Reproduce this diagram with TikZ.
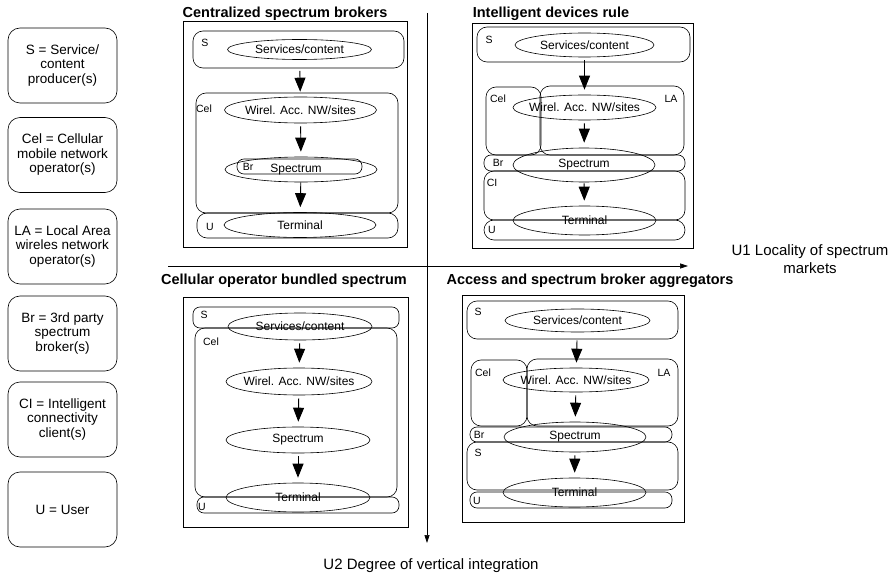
\documentclass[tikz,border=0pt]{standalone}
\usepackage{fontspec}
\setmainfont{Liberation Sans}
\usetikzlibrary{shapes.geometric, arrows.meta}
\newcommand{\zwbox}[1]{\makebox[0pt]{#1}}

\begin{document}
\begin{tikzpicture}[x=1pt, y=-1pt, line width=0.6pt,
  legend/.style={draw, rounded corners=12pt, minimum width=109pt, minimum height=75pt, align=center, inner sep=2pt, font=\fontsize{13.5}{14.5}\selectfont},
  title/.style={font=\fontsize{14.5}{17}\selectfont\bfseries},
  axislabel/.style={align=center, font=\fontsize{15}{18}\selectfont},
  panel/.style={draw},
  region/.style={draw, rounded corners=10pt},
  slim/.style={draw, rounded corners=7pt},
  tag/.style={inner sep=0pt, font=\fontsize{10.5}{12}\selectfont},
  ell/.style={draw, ellipse, inner sep=0pt, font=\fontsize{12}{14}\selectfont},
  flow/.style={-{Triangle[length=14pt,width=11pt]}, line width=0.9pt, shorten <=3pt, shorten >=5pt},
  axis/.style={-{Triangle[length=8pt,width=5pt]}}]
\useasboundingbox (0,0) rectangle (895,575);

% legend
\node[legend] (lS) at (62.5,65.5) {S = Service/\\content\\producer(s)};
\node[legend] (lCel) at (62.5,155) {Cel = Cellular\\mobile network\\operator(s)};
\node[legend] (lLA) at (62.5,246.5) {LA = Local Area\\wireles network\\operator(s)};
\node[legend] (lBr) at (62.5,333.5) {Br = 3rd party\\spectrum\\broker(s)};
\node[legend] (lCI) at (62.5,419.5) {CI = Intelligent\\connectivity\\client(s)};
\node[legend] (lU) at (62.5,509.5) {U = User};

% axes
\coordinate (top) at (427,13);
\coordinate (bottom) at (427,543);
\coordinate (left) at (168,266);
\coordinate (right) at (688,266);
\draw[axis] (top) -- (bottom);
\draw[axis] (left) -- (right);
\node[axislabel] (u1) at (810,259) {U1 Locality of spectrum\\markets};
\node[axislabel] (u2) at (431,566) {U2 Degree of vertical integration};

% titles
\node[title] (t1) at (285,14) {Centralized spectrum brokers};
\node[title] (t2) at (551,14) {Intelligent devices rule};
\node[title] (t3) at (284,281) {Cellular operator bundled spectrum};
\node[title] (t4) at (590,281) {Access and spectrum broker aggregators};

% centralized spectrum brokers
\draw[panel] (183,21) rectangle (407,247);
\draw[region] (193,31) rectangle (404,68);
\draw[region] (196,93) rectangle (398,213);
\draw[region] (197,213) rectangle (398,238);
\draw[slim] (237,159) rectangle (362,174);
\node[tag] (aS) at (205,43) {S};
\node[tag] (aCel) at (204,109) {Cel};
\node[tag] (aBr) at (248,167) {Br};
\node[tag] (aU) at (210,227) {U};
\node[ell, minimum width=144pt, minimum height=20pt] (aSvc) at (299.5,49.5) {\zwbox{Services/content}};
\node[ell, minimum width=152pt, minimum height=26pt] (aAcc) at (300.5,110) {\zwbox{Wirel. Acc. NW/sites}};
\node[ell, minimum width=152pt, minimum height=25pt] (aSpec) at (301,169.5) {\zwbox{\hspace{-10pt}Spectrum}};
\node[ell, minimum width=152pt, minimum height=25pt] (aTerm) at (300,225) {\zwbox{Terminal}};
\draw[flow, shorten <=11pt] (aSvc) -- (aAcc);
\draw[flow] (aAcc) -- (aSpec);
\draw[flow, shorten <=0pt] (aSpec) -- (aTerm);

% intelligent devices rule
\draw[panel] (472,23) rectangle (693,248);
\draw[region] (477,27) rectangle (690,62);
\draw[region] (486,87) rectangle (541,155);
\draw[region] (540,86) rectangle (684,155);
\draw[slim] (484,155) rectangle (685,171);
\draw[region] (484,171) rectangle (685,220);
\draw[region] (484,220) rectangle (685,240);
\node[tag] (bS) at (489,40) {S};
\node[tag] (bCel) at (498,99) {Cel};
\node[tag] (bLA) at (671,99) {LA};
\node[tag] (bBr) at (498,163) {Br};
\node[tag] (bCI) at (492,183) {CI};
\node[tag] (bU) at (492,230) {U};
\node[ell, minimum width=139pt, minimum height=24pt] (bSvc) at (584.5,45) {\zwbox{Services/content}};
\node[ell, minimum width=143pt, minimum height=25pt] (bAcc) at (584.5,107.5) {\zwbox{Wirel. Acc. NW/sites}};
\node[ell, minimum width=142pt, minimum height=34pt] (bSpec) at (584,165) {\zwbox{Spectrum}};
\node[ell, minimum width=143pt, minimum height=29pt] (bTerm) at (584.5,220.5) {\zwbox{Terminal}};
\draw[flow] (bSvc) -- (bAcc);
\draw[flow] (bAcc) -- (bSpec);
\draw[flow, shorten <=1pt] (bSpec) -- (bTerm);

% cellular operator bundled spectrum
\draw[panel] (183,297) rectangle (408,527);
\draw[slim] (193,307) rectangle (399,328);
\draw[region] (195,328) rectangle (397,497);
\draw[slim] (197,497) rectangle (399,513);
\node[tag] (cS) at (204,315) {S};
\node[tag] (cCel) at (211,342) {Cel};
\node[tag] (cU) at (202,507) {U};
\node[ell, minimum width=144pt, minimum height=27pt] (cSvc) at (300,326.5) {\zwbox{Services/content}};
\node[ell, minimum width=146pt, minimum height=27pt] (cAcc) at (299,381.5) {\zwbox{Wirel. Acc. NW/sites}};
\node[ell, minimum width=144pt, minimum height=26pt] (cSpec) at (298,440) {\zwbox{Spectrum}};
\node[ell, minimum width=144pt, minimum height=29pt] (cTerm) at (298,497.5) {\zwbox{Terminal}};
\draw[flow] (cSvc) -- (cAcc);
\draw[flow] (cAcc) -- (cSpec);
\draw[flow] (cSpec) -- (cTerm);

% access and spectrum broker aggregators
\draw[panel] (462,295) rectangle (684,522);
\draw[region] (467,301) rectangle (678,339);
\draw[region] (471,360) rectangle (527,426);
\draw[region] (527,359) rectangle (678,426);
\draw[slim] (470,427) rectangle (672,442);
\draw[region] (467,442) rectangle (678,490);
\draw[slim] (470,492) rectangle (672,508);
\node[tag] (dS) at (478,312) {S};
\node[tag] (dCel) at (483,373) {Cel};
\node[tag] (dLA) at (664,373) {LA};
\node[tag] (dBr) at (479,435) {Br};
\node[tag] (dS2) at (478,453) {S};
\node[tag] (dU) at (477,501) {U};
\node[ell, minimum width=145pt, minimum height=23pt] (dSvc) at (577.5,320.5) {\zwbox{Services/content}};
\node[ell, minimum width=146pt, minimum height=24pt] (dAcc) at (576,380) {\zwbox{Wirel. Acc. NW/sites}};
\node[ell, minimum width=142pt, minimum height=30pt] (dSpec) at (575,437) {\zwbox{Spectrum}};
\node[ell, minimum width=143pt, minimum height=29pt] (dTerm) at (574.5,492.5) {\zwbox{Terminal}};
\draw[flow, shorten <=8pt] (dSvc) -- (dAcc);
\draw[flow] (dAcc) -- (dSpec);
\draw[flow] (dSpec) -- (dTerm);
\end{tikzpicture}
\end{document}
